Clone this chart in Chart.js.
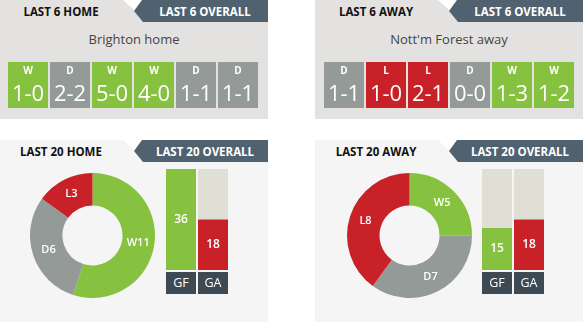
<!DOCTYPE html>
<html lang="en">
<head>
<meta charset="UTF-8">
<title>Form guide</title>
<script src="https://cdn.jsdelivr.net/npm/chart.js@4.4.0/dist/chart.umd.min.js"></script>
<style>
    body { margin: 0; width: 583px; height: 322px; overflow: hidden; position: relative; background: #fff; font-family: "Open Sans", sans-serif; }
    .panel { position: absolute; width: 268px; }
    .top { top: 0; height: 119px; background: #e4e2e0; }
    .bot { top: 140px; height: 182px; background: #f5f5f5; }
    .title { position: absolute; left: 0; top: 0; width: 122px; height: 24px; line-height: 24px; text-align: center; font-size: 11.5px; font-weight: 700; color: #111; }
    .notch { position: absolute; left: 123px; top: 0; width: 19px; height: 11px; background: #fff; clip-path: polygon(0 0, 100% 0, 12px 100%); }
    .tab { position: absolute; left: 134px; top: 0; width: 126px; padding-left: 8px; height: 22px; line-height: 24px; background: #506270; color: #fff; text-align: center; font-size: 11.5px; font-weight: 700; clip-path: polygon(8px 0, 100% 0, 100% 100%, 9px 100%, 0 11px); }
    .sub { position: absolute; left: 0; top: 30px; width: 268px; line-height: 18px; text-align: center; font-size: 13px; color: #444; }
    canvas { position: absolute; }
    .lbl { position: absolute; width: 30px; height: 22px; line-height: 22px; background: #3e4a53; color: #fff; text-align: center; font-size: 12.5px; }
</style>
</head>
<body>

<div class="panel top" style="left:0">
    <div class="title">LAST 6 HOME</div>
    <div class="notch"></div>
    <div class="tab">LAST 6 OVERALL</div>
    <div class="sub">Brighton home</div>
</div>
<div class="panel top" style="left:315px">
    <div class="title">LAST 6 AWAY</div>
    <div class="notch"></div>
    <div class="tab">LAST 6 OVERALL</div>
    <div class="sub">Nott'm Forest away</div>
</div>
<div class="panel bot" style="left:0">
    <div class="title">LAST 20 HOME</div>
    <div class="notch"></div>
    <div class="tab">LAST 20 OVERALL</div>
</div>
<div class="panel bot" style="left:315px">
    <div class="title">LAST 20 AWAY</div>
    <div class="notch"></div>
    <div class="tab">LAST 20 OVERALL</div>
</div>

<canvas id="homeForm6" width="252" height="46" style="left:7px;top:62px"></canvas>
<canvas id="awayForm6" width="252" height="46" style="left:323px;top:62px"></canvas>
<canvas id="homeDonut" width="125" height="125" style="left:30px;top:173px"></canvas>
<canvas id="awayDonut" width="125" height="125" style="left:347px;top:173px"></canvas>
<canvas id="homeGoalsChart" width="64" height="101" style="left:165px;top:169px"></canvas>
<canvas id="awayGoalsChart" width="64" height="101" style="left:481px;top:169px"></canvas>

<div class="lbl" style="left:166px;top:272px">GF</div>
<div class="lbl" style="left:198px;top:272px">GA</div>
<div class="lbl" style="left:482px;top:272px">GF</div>
<div class="lbl" style="left:514px;top:272px">GA</div>

<script>
    // last 6 results
    const homeResults = ['W', 'D', 'W', 'W', 'D', 'D'];
    const homeScores = ['1-0', '2-2', '5-0', '4-0', '1-1', '1-1'];
    const awayResults = ['D', 'L', 'L', 'D', 'W', 'W'];
    const awayScores = ['1-1', '1-0', '2-1', '0-0', '1-3', '1-2'];

    // last 20 results
    const formLabels = ['W', 'D', 'L'];
    const homeForm = [11, 6, 3];
    const awayForm = [5, 7, 8];

    // goals for / against
    const goalLabels = ['GF', 'GA'];
    const homeGoals = [36, 18];
    const awayGoals = [15, 18];
    const goalsMax = 36;

    const GREEN = '#86c13f';
    const GREY = '#949a97';
    const RED = '#c82128';
    const BEIGE = '#e0dfd5';
    const resultColor = { W: GREEN, D: GREY, L: RED };

    const baseOptions = {
        responsive: false,
        animation: false,
        events: [],
        layout: { padding: 0 },
        plugins: { legend: { display: false }, tooltip: { enabled: false } }
    };

    // text on the result cells
    const cellText = {
        id: 'cellText',
        afterDatasetsDraw(chart) {
            const ctx = chart.ctx;
            const meta = chart.getDatasetMeta(0);
            const res = chart.data.datasets[0].results;
            const scores = chart.data.datasets[0].scores;
            ctx.save();
            ctx.fillStyle = '#fff';
            ctx.textAlign = 'center';
            ctx.textBaseline = 'middle';
            meta.data.forEach((bar, i) => {
                ctx.font = '700 10px "Open Sans"';
                ctx.fillText(res[i], bar.x, 9);
                ctx.font = '400 22px "Open Sans"';
                ctx.fillText(scores[i], bar.x, 33);
            });
            ctx.restore();
        }
    };

    function formChart(id, results, scores) {
        new Chart(document.getElementById(id), {
            type: 'bar',
            data: {
                labels: results.map((r, i) => i),
                datasets: [{
                    data: results.map(() => 1),
                    backgroundColor: results.map(r => resultColor[r]),
                    results: results,
                    scores: scores,
                    categoryPercentage: 1,
                    barPercentage: 40 / 42
                }]
            },
            options: {
                ...baseOptions,
                scales: {
                    x: { display: false },
                    y: { display: false, min: 0, max: 1 }
                }
            },
            plugins: [cellText]
        });
    }

    // labels on the doughnut slices
    const sliceText = {
        id: 'sliceText',
        afterDatasetsDraw(chart) {
            const ctx = chart.ctx;
            const meta = chart.getDatasetMeta(0);
            const values = chart.data.datasets[0].data;
            ctx.save();
            ctx.fillStyle = '#fff';
            ctx.textAlign = 'center';
            ctx.textBaseline = 'middle';
            ctx.font = '600 11px "Open Sans"';
            meta.data.forEach((arc, i) => {
                const p = arc.tooltipPosition();
                ctx.fillText(chart.data.labels[i] + values[i], p.x, p.y);
            });
            ctx.restore();
        }
    };

    function donutChart(id, values) {
        new Chart(document.getElementById(id), {
            type: 'doughnut',
            data: {
                labels: formLabels,
                datasets: [{
                    data: values,
                    backgroundColor: [GREEN, GREY, RED],
                    borderWidth: 0
                }]
            },
            options: { ...baseOptions, cutout: '48%' },
            plugins: [sliceText]
        });
    }

    // numbers inside the goal bars
    const barText = {
        id: 'barText',
        afterDatasetsDraw(chart) {
            const ctx = chart.ctx;
            const meta = chart.getDatasetMeta(0);
            const values = chart.data.datasets[0].data;
            ctx.save();
            ctx.fillStyle = '#fff';
            ctx.textAlign = 'center';
            ctx.textBaseline = 'middle';
            ctx.font = '600 12px "Open Sans"';
            meta.data.forEach((bar, i) => {
                ctx.fillText(values[i], bar.x, (bar.y + bar.base) / 2);
            });
            ctx.restore();
        }
    };

    function goalsChart(id, goals) {
        new Chart(document.getElementById(id), {
            type: 'bar',
            data: {
                labels: goalLabels,
                datasets: [{
                    data: goals,
                    backgroundColor: [GREEN, RED],
                    categoryPercentage: 1,
                    barPercentage: 30 / 32
                }, {
                    data: goals.map(g => goalsMax - g),
                    backgroundColor: BEIGE,
                    categoryPercentage: 1,
                    barPercentage: 30 / 32
                }]
            },
            options: {
                ...baseOptions,
                scales: {
                    x: { display: false, stacked: true },
                    y: { display: false, stacked: true, min: 0, max: goalsMax }
                }
            },
            plugins: [barText]
        });
    }

    formChart('homeForm6', homeResults, homeScores);
    formChart('awayForm6', awayResults, awayScores);
    donutChart('homeDonut', homeForm);
    donutChart('awayDonut', awayForm);
    goalsChart('homeGoalsChart', homeGoals);
    goalsChart('awayGoalsChart', awayGoals);
</script>

</body>
</html>
